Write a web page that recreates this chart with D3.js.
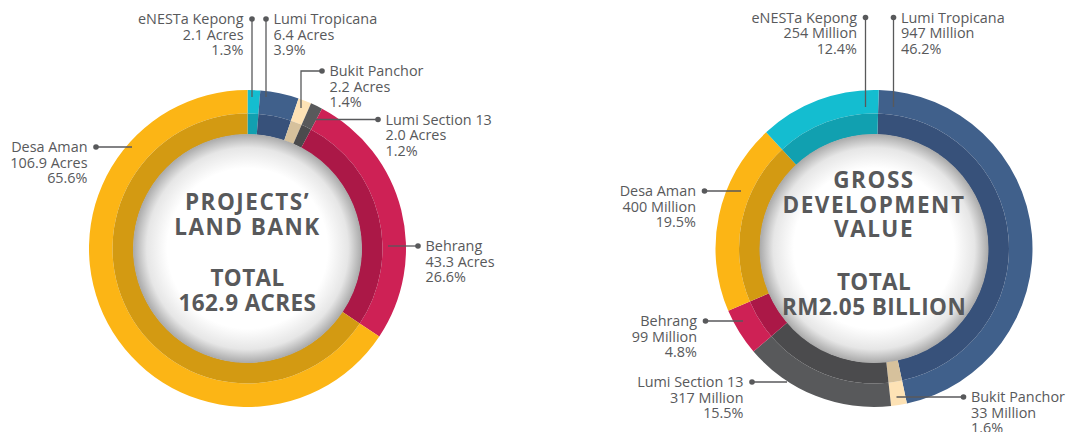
<!DOCTYPE html>
<html>
<head>
<meta charset="utf-8">
<script src="https://cdn.jsdelivr.net/npm/d3@7"></script>
<style>
  body { margin: 0; background: #fff; }
  svg { display: block; }
</style>
</head>
<body>
<div id="chart"></div>
<script>
// Projects' land bank (clockwise from 12 o'clock)
const landNames = ["eNESTa Kepong", "Lumi Tropicana", "Bukit Panchor", "Lumi Section 13", "Behrang", "Desa Aman"];
const landAcres = [2.1, 6.4, 2.2, 2.0, 43.3, 106.9];
const landPct = ["1.3%", "3.9%", "1.4%", "1.2%", "26.6%", "65.6%"];
const landTitle = ["PROJECTS’", "LAND BANK"];
const landTotal = ["TOTAL", "162.9 ACRES"];

// Gross development value, RM million (clockwise from 12 o'clock)
const gdvNames = ["Lumi Tropicana", "Bukit Panchor", "Lumi Section 13", "Behrang", "Desa Aman", "eNESTa Kepong"];
const gdvMillion = [947, 33, 317, 99, 400, 254];
const gdvPct = ["46.2%", "1.6%", "15.5%", "4.8%", "19.5%", "12.4%"];
const gdvTitle = ["GROSS", "DEVELOPMENT", "VALUE"];
const gdvTotal = ["TOTAL", "RM2.05 BILLION"];

const W = 1066, H = 432;
const textCol = "#58595b";

const outerCol = d3.scaleOrdinal()
  .domain(["eNESTa Kepong", "Lumi Tropicana", "Bukit Panchor", "Lumi Section 13", "Behrang", "Desa Aman"])
  .range(["#14bdd0", "#40608b", "#fde2b5", "#58595b", "#ce2155", "#fcb515"]);
const innerCol = d3.scaleOrdinal()
  .domain(outerCol.domain())
  .range(["#11a0b0", "#37517a", "#d6c19c", "#4b4b4d", "#ab1847", "#d39a12"]);

const svg = d3.select("#chart").append("svg")
  .attr("width", W).attr("height", H);

const defs = svg.append("defs");
const grad = defs.append("radialGradient").attr("id", "disk");
grad.append("stop").attr("offset", "0%").attr("stop-color", "#ffffff");
grad.append("stop").attr("offset", "70%").attr("stop-color", "#ffffff");
grad.append("stop").attr("offset", "88%").attr("stop-color", "#e6e6e6");
grad.append("stop").attr("offset", "100%").attr("stop-color", "#a9a9a9");

// label layout: dot, leader path and text side, relative to chart centre
const landLayout = {
  "eNESTa Kepong":  { pts: [[4.5, -229.5], [4.5, -151.5]], side: "left" },
  "Lumi Tropicana": { pts: [[18.5, -229.5], [18.5, -151.5]], side: "right" },
  "Bukit Panchor":  { pts: [[74.5, -177.5], [53.5, -177.5], [53.5, -140.5]], side: "right" },
  "Lumi Section 13": { pts: [[130.5, -129], [67.5, -129]], side: "right" },
  "Behrang":        { pts: [[170.5, -2.5], [140.5, -2.5]], side: "right" },
  "Desa Aman":      { pts: [[-151.5, -101.5], [-115.5, -101.5]], side: "left" }
};
const gdvLayout = {
  "eNESTa Kepong":  { pts: [[-8.5, -231], [-8.5, -141.5]], side: "left" },
  "Lumi Tropicana": { pts: [[19.5, -231], [19.5, -141.5]], side: "right" },
  "Desa Aman":      { pts: [[-169.5, -57.5], [-133, -57.5]], side: "left" },
  "Behrang":        { pts: [[-168.5, 72.5], [-131, 72.5]], side: "left" },
  "Lumi Section 13": { pts: [[-122, 133.5], [-87, 133.5]], side: "left" },
  "Bukit Panchor":  { pts: [[89.5, 148.5], [22.5, 148.5]], side: "right" }
};

function donut(opts) {
  const g = svg.append("g").attr("transform", `translate(${opts.cx},${opts.cy})`);
  const pie = d3.pie().sort(null).value(d => d.value)
    .startAngle(opts.rot).endAngle(opts.rot + 2 * Math.PI);
  const data = opts.names.map((n, i) => ({ name: n, value: opts.values[i], unit: opts.units[i], pct: opts.pcts[i] }));
  const arcs = pie(data);

  const outer = d3.arc().innerRadius(135).outerRadius(158.5);
  const inner = d3.arc().innerRadius(114).outerRadius(135);

  g.selectAll("path.outer").data(arcs).join("path")
    .attr("class", "outer").attr("d", outer).attr("fill", d => outerCol(d.data.name));
  g.selectAll("path.inner").data(arcs).join("path")
    .attr("class", "inner").attr("d", inner).attr("fill", d => innerCol(d.data.name));

  g.append("circle").attr("r", 114.5).attr("fill", "url(#disk)");

  // centre title
  const ttl = g.append("g").attr("font-family", "'Open Sans', sans-serif")
    .attr("font-weight", 700).attr("font-size", 22.5).attr("fill", textCol)
    .attr("text-anchor", "middle");
  opts.title.forEach((t, i) => {
    ttl.append("text").attr("x", 0).attr("y", opts.titleY + i * 24.5 + 8)
      .attr("letter-spacing", 1.5).text(t);
  });
  opts.total.forEach((t, i) => {
    ttl.append("text").attr("x", 0).attr("y", opts.totalY + i * 24.5 + 8)
      .attr("letter-spacing", 0.4).text(t);
  });

  // leader lines and labels
  const lbl = g.append("g");
  arcs.forEach(a => {
    const L = opts.layout[a.data.name];
    lbl.append("path")
      .attr("d", d3.line()(L.pts))
      .attr("fill", "none").attr("stroke", textCol).attr("stroke-width", 1.3);
    lbl.append("circle")
      .attr("cx", L.pts[0][0]).attr("cy", L.pts[0][1]).attr("r", 2.8).attr("fill", textCol);
    const left = L.side === "left";
    const tx = L.pts[0][0] + (left ? -8.5 : 7.5);
    const lines = [a.data.name, a.data.unit, a.data.pct];
    lines.forEach((s, i) => {
      lbl.append("text")
        .attr("x", tx).attr("y", L.pts[0][1] + i * 15.6 + 5)
        .attr("text-anchor", left ? "end" : "start")
        .attr("font-family", "'Open Sans', sans-serif")
        .attr("font-size", 14.4).attr("fill", textCol)
        .text(s);
    });
  });
}

donut({
  cx: 247.5, cy: 248.5, rot: 0,
  names: landNames, values: landAcres,
  units: landAcres.map(v => `${d3.format(".1f")(v)} Acres`),
  pcts: landPct, layout: landLayout,
  title: landTitle, titleY: -46.5, total: landTotal, totalY: 29.5
});

donut({
  cx: 874, cy: 248.5, rot: 0.03,
  names: gdvNames, values: gdvMillion,
  units: gdvMillion.map(v => `${v} Million`),
  pcts: gdvPct, layout: gdvLayout,
  title: gdvTitle, titleY: -68.5, total: gdvTotal, totalY: 33.5
});
</script>
</body>
</html>
